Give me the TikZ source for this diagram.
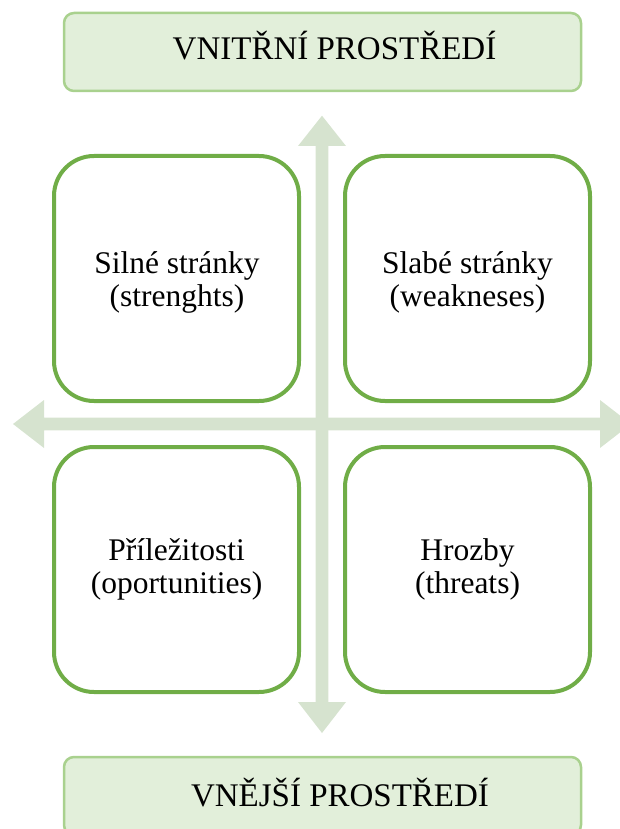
\documentclass[tikz,border=0pt]{standalone}
\usepackage{fontspec}
\setmainfont{Liberation Serif}
\definecolor{arrowgreen}{RGB}{214,227,207}
\definecolor{titlefill}{RGB}{226,239,218}
\definecolor{titleborder}{RGB}{169,209,142}
\definecolor{quadgreen}{RGB}{112,173,71}
\begin{document}
\begin{tikzpicture}[x=1pt,y=-1pt,
  quad/.style={draw=quadgreen, line width=4pt, fill=white, rounded corners=40pt, minimum width=245pt, minimum height=245pt, inner sep=0pt},
  titlebox/.style={draw=titleborder, fill=titlefill, line width=2.5pt, rounded corners=10pt, minimum width=517pt, minimum height=78pt, inner sep=0pt},
  quadtext/.style={align=center, font=\fontsize{31.5}{33.5}\selectfont, inner sep=0pt},
  titletext/.style={font=\fontsize{33}{36}\selectfont, inner sep=0pt, anchor=base},
  bigarrow/.style={fill=arrowgreen, draw=none}]
\useasboundingbox (0,0) rectangle (620,829);
\clip (0,0) rectangle (620,829);
% horizontal double arrow
\fill[bigarrow] (13,424) -- (44,400) -- (44,417.7) -- (600,417.7) -- (600,400) -- (631,424)
  -- (600,448) -- (600,430.3) -- (44,430.3) -- (44,448) -- cycle;
% vertical double arrow
\fill[bigarrow] (322,115.7) -- (346,146) -- (328.3,146) -- (328.3,702) -- (346,702) -- (322,733)
  -- (298,702) -- (315.7,702) -- (315.7,146) -- (298,146) -- cycle;
% title boxes
\node[titlebox] (inner) at (322.5,52) {};
\node[titletext] (innertxt) at (334.5,60) {VNITŘNÍ PROSTŘEDÍ};
\node[titlebox] (outer) at (322.5,796) {};
\node[titletext] (outertxt) at (340,806) {VNĚJŠÍ PROSTŘEDÍ};
% quadrant boxes
\node[quad] (s) at (176.5,278.5) {};
\node[quad] (w) at (467.5,278.5) {};
\node[quad] (o) at (176.5,569.5) {};
\node[quad] (t) at (467.5,569.5) {};
\node[quadtext] (stxt) at (177,282.5) {Silné stránky\\(strenghts)};
\node[quadtext] (wtxt) at (467.5,282.5) {Slabé stránky\\(weakneses)};
\node[quadtext] (otxt) at (176.5,569.5) {Příležitosti\\(oportunities)};
\node[quadtext] (ttxt) at (467.5,569.5) {Hrozby\\(threats)};
\end{tikzpicture}
\end{document}
